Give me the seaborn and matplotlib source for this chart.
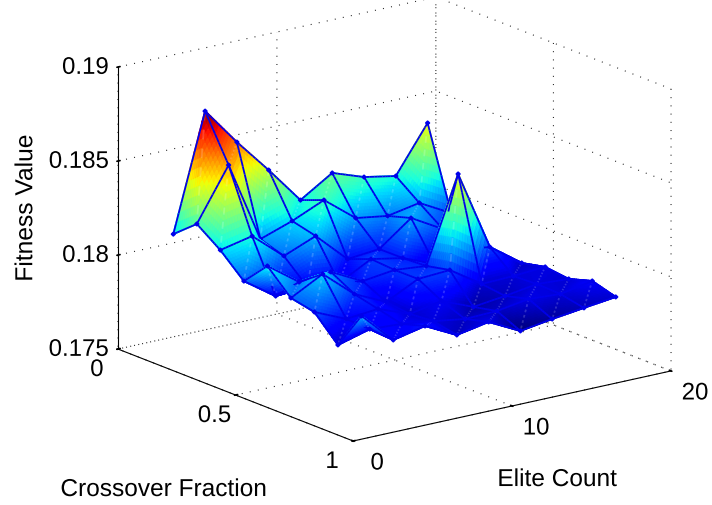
import numpy as np
import matplotlib
matplotlib.use("Agg")
import matplotlib.pyplot as plt
import matplotlib.patheffects as pe
import seaborn as sns
from mpl_toolkits.mplot3d.art3d import Poly3DCollection

elite_count = [2, 4, 6, 8, 10, 12, 14, 16, 18]
crossover = [0.1, 0.2, 0.3, 0.4, 0.5, 0.6, 0.7, 0.8, 0.9]
# excess above 0.175, in thousandths; one list per crossover fraction
row_01 = [6.23, 12.40, 10.38, 8.52, 6.55, 7.62, 7.03, 6.71, 9.16]
row_02 = [7.26, 10.02, 5.71, 6.30, 7.04, 5.71, 5.45, 5.77, 4.86]
row_03 = [6.36, 6.73, 5.30, 5.99, 4.39, 4.55, 5.83, 4.87, 3.97]
row_04 = [5.20, 4.03, 4.14, 3.98, 4.88, 4.56, 3.87, 4.30, 3.66]
row_05 = [6.49, 5.27, 5.43, 4.57, 4.79, 4.63, 9.15, 4.89, 3.67]
row_06 = [5.28, 6.18, 4.74, 3.95, 4.80, 4.90, 3.79, 3.84, 3.95]
row_07 = [5.02, 4.28, 4.44, 3.80, 4.12, 3.43, 3.64, 3.90, 3.80]
row_08 = [3.76, 4.23, 4.13, 3.91, 3.65, 3.70, 3.97, 3.86, 4.18]
row_09 = [5.79, 4.14, 4.51, 3.66, 3.98, 3.13, 3.39, 3.61, 3.82]
x_ticks = [0, 10, 20]
y_ticks = [0, 0.5, 1]
z_ticks = [0.175, 0.18, 0.185, 0.19]
z_tick_labels = ["0.175", "0.18", "0.185", "0.19"]

sns.set_theme(style="white")
plt.rcParams["font.family"] = ["Liberation Sans", "DejaVu Sans"]
plt.rcParams["grid.color"] = "#222222"
plt.rcParams["grid.linewidth"] = 0.8
plt.rcParams["grid.linestyle"] = (0, (0.9, 6.5))

X = np.array(elite_count, float)
Y = np.array(crossover, float)
Z = 0.175 + np.array([row_01, row_02, row_03, row_04, row_05, row_06,
                      row_07, row_08, row_09]) / 1000.0
cmap = matplotlib.colormaps["jet"]
zmin, zmax = Z.min(), Z.max()

fig = plt.figure(figsize=(7.12, 5.06), dpi=100)
W = 680.0
left = 394.5 - 0.5135 * W
bottom = 286.0 - 0.5135 * W
ax = fig.add_axes([left / 712, bottom / 506, W / 712, W / 506], projection="3d")
ax.set_proj_type("ortho")
ax.view_init(elev=17.07, azim=-126.9)
ax.set_box_aspect((397.5, 391.7, 295.0), zoom=612.8 / W)
ax.set_xlim(0, 20, view_margin=0)
ax.set_ylim(1, 0, view_margin=0)
ax.set_zlim(0.175, 0.19, view_margin=0)

# Interpolated shading: triangles split along one diagonal, as the source mesh
N = 12
toward = np.array([-1.0, 0.0677, 0.000517])
polys, faces, edges = [], [], []


def add_tri(a, b, c):
    a, b, c = np.array(a), np.array(b), np.array(c)
    for p in range(N):
        for q in range(N - p):
            tris = [(p, q, 1)]
            if p + q < N - 1:
                tris.append((p, q, 0))
            for pp, qq, up in tris:
                if up:
                    v = [(pp, qq), (pp + 1, qq), (pp, qq + 1)]
                else:
                    v = [(pp + 1, qq), (pp + 1, qq + 1), (pp, qq + 1)]
                pts = [a + (b - a) * s / N + (c - a) * t / N for s, t in v]
                col = cmap((np.mean([w[2] for w in pts]) - zmin) / (zmax - zmin))
                polys.append(pts + [pts[0]])
                faces.append(col)
                edges.append(col)


ny, nx = Z.shape
P = lambda i, j: (X[i], Y[j], Z[j, i])
for j in range(ny - 1):
    for i in range(nx - 1):
        add_tri(P(i, j), P(i + 1, j), P(i, j + 1))
        add_tri(P(i + 1, j), P(i + 1, j + 1), P(i, j + 1))

wire = (0.0, 0.0, 0.92, 1.0)
seam = (1.0, 1.0, 1.0, 0.18)
none = (0, 0, 0, 0)


def add_wire(a, b, color=wire, step=1, lift=0.8):
    a, b = np.array(a), np.array(b)
    for s in range(0, N, step):
        p0 = a + (b - a) * s / N + toward * lift
        p1 = a + (b - a) * (s + 1) / N + toward * lift
        polys.append([p0, p1, p1, p0])
        faces.append(none)
        edges.append(color)


for j in range(ny):
    for i in range(nx):
        if i < nx - 1 and j < ny - 1:
            add_wire(P(i + 1, j), P(i, j + 1), seam, 2, 0.5)
for j in range(ny):
    for i in range(nx):
        if i < nx - 1:
            add_wire(P(i, j), P(i + 1, j))
        if j < ny - 1:
            add_wire(P(i, j), P(i, j + 1))
        c = np.array(P(i, j)) + toward * 0.9
        dh = np.array([0.07, 0.0027, 0.0])
        dv = np.array([0.0, 0.0, 0.00009])
        polys.append([c + dh, c + dv, c - dh, c - dv])
        faces.append(wire)
        edges.append(wire)

col = Poly3DCollection(polys, linewidths=1.3, zsort="average")
ax.add_collection3d(col)
col.set_facecolor(np.array(faces))
col.set_edgecolor(np.array(edges))

ax.set_xticks(x_ticks)
ax.set_yticks(y_ticks)
ax.set_zticks(z_ticks)
ax.set_xticklabels([str(t) for t in x_ticks])
ax.set_yticklabels([str(t) for t in y_ticks])
ax.set_zticklabels(z_tick_labels)
for t in ax.get_zticklabels():
    t.set_ha("right")
ax.tick_params(axis="x", labelsize=17.3, pad=-1.5, colors="black")
ax.tick_params(axis="y", labelsize=17.3, pad=-1.5, colors="black")
ax.tick_params(axis="z", labelsize=17.3, pad=-5.6, colors="black")
ax.set_xlabel("Elite Count", fontsize=17.6, labelpad=14.5)
ax.set_ylabel("Crossover Fraction", fontsize=17.6, labelpad=21)
ax.set_zlabel("Fitness Value", fontsize=17.7, labelpad=13, rotation=90)
ax.zaxis.set_rotate_label(False)
ax.xaxis.set_rotate_label(False)
ax.yaxis.set_rotate_label(False)


def nudge(texts, dx_px, dy_px):
    for t in texts:
        t.set_path_effects([pe.Stroke(offset=(dx_px * 0.72, dy_px * 0.72))])


nudge(ax.get_xticklabels(), 18, -2)
nudge(ax.get_yticklabels(), -13, -1)
nudge(ax.get_zticklabels(), -4, 10)
nudge([ax.xaxis.label], 12, -22)
nudge([ax.yaxis.label], -20, -37)
nudge([ax.zaxis.label], -19, -3)

for axis in (ax.xaxis, ax.yaxis, ax.zaxis):
    axis.set_pane_color((1, 1, 1, 0))
    axis.pane.set_edgecolor((1, 1, 1, 0))
    axis.line.set_color("black")
    axis.line.set_linewidth(0.8)
    axis._axinfo["tick"].update(inward_factor=0.04, outward_factor=0.08)
    axis.label.set_color("black")

ax.patch.set_alpha(0)
fig.savefig("out.png", dpi=100)
